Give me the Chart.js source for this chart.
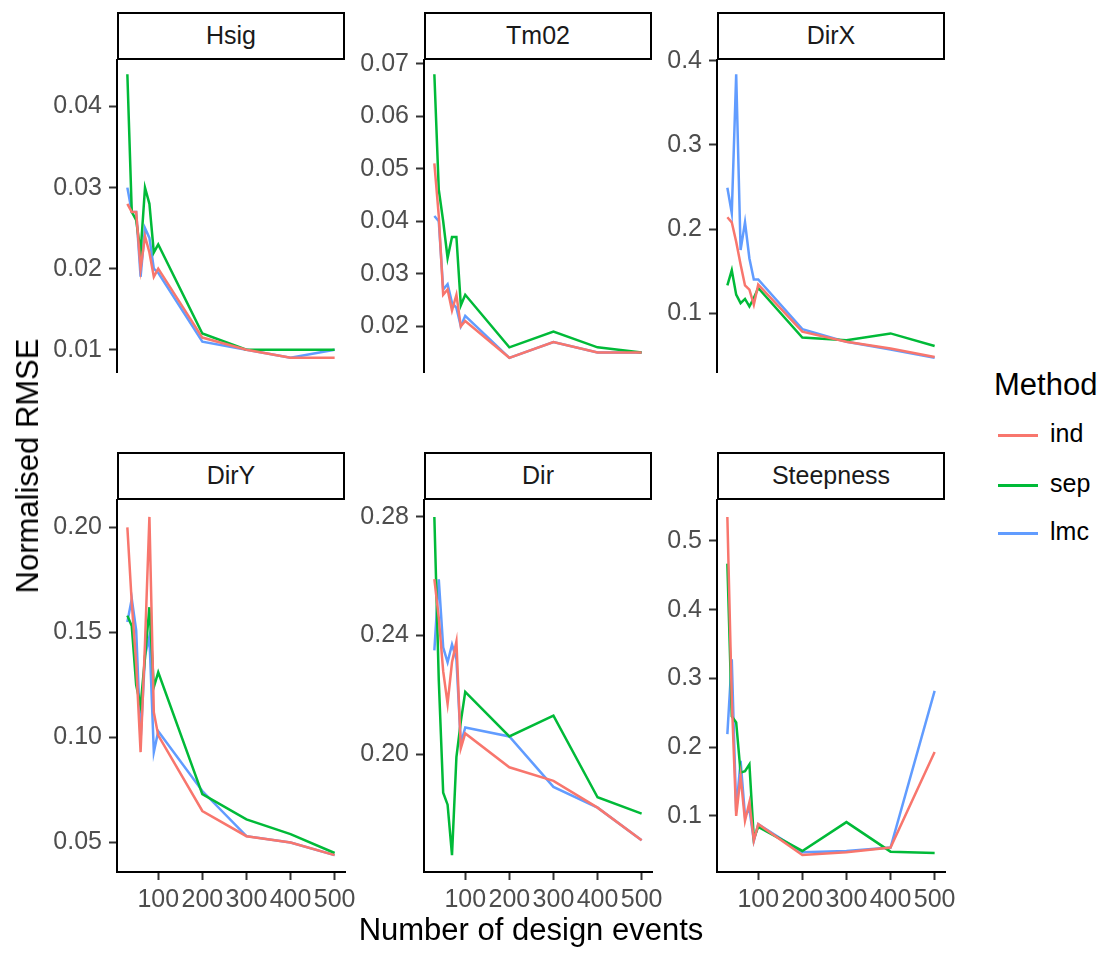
<!DOCTYPE html>
<html>
<head>
<meta charset="utf-8">
<script src="https://cdn.jsdelivr.net/npm/chart.js@4.4.1/dist/chart.umd.min.js"></script>
<style>
  body { margin: 0; background: #fff; font-family: "Liberation Sans", Arial, sans-serif; }
  #page { position: relative; width: 1103px; height: 953px; overflow: hidden; }
  .panel { position: absolute; }
  .strip { position: absolute; box-sizing: border-box; border: 2.5px solid #000; background: #fff;
           font-size: 25px; color: #1a1a1a; text-align: center; }
  .title { position: absolute; font-size: 31px; color: #000; white-space: nowrap; }
  .key { position: absolute; height: 2.5px; width: 40px; }
  .keylab { position: absolute; font-size: 25px; color: #000; }
</style>
</head>
<body>
<div id="page"></div>
<script>
// design event counts (x axis)
var xs = [30, 40, 50, 60, 70, 80, 90, 100, 200, 300, 400, 500];
var xTicks = [100, 200, 300, 400, 500];

var methods = ['ind', 'sep', 'lmc'];
var methodColors = ['#F8766D', '#00BA38', '#619CFF'];

var panelNames = ['Hsig', 'Tm02', 'DirX', 'DirY', 'Dir', 'Steepness'];

// Hsig
var hsigInd = [0.028, 0.027, 0.027, 0.020, 0.024, 0.022, 0.019, 0.020, 0.0115, 0.010, 0.009, 0.009];
var hsigSep = [0.044, 0.027, 0.026, 0.022, 0.030, 0.028, 0.022, 0.023, 0.012, 0.010, 0.010, 0.010];
var hsigLmc = [0.030, 0.027, 0.027, 0.019, 0.025, 0.0238, 0.020, 0.0195, 0.011, 0.010, 0.009, 0.010];
var hsigTicks = [0.01, 0.02, 0.03, 0.04];
var hsigTickLabels = ['0.01', '0.02', '0.03', '0.04'];

// Tm02
var tm02Ind = [0.051, 0.041, 0.026, 0.027, 0.023, 0.026, 0.020, 0.021, 0.014, 0.017, 0.015, 0.015];
var tm02Sep = [0.068, 0.046, 0.040, 0.033, 0.037, 0.037, 0.024, 0.026, 0.016, 0.019, 0.016, 0.015];
var tm02Lmc = [0.041, 0.040, 0.027, 0.028, 0.0245, 0.0235, 0.020, 0.022, 0.014, 0.017, 0.015, 0.015];
var tm02Ticks = [0.02, 0.03, 0.04, 0.05, 0.06, 0.07];
var tm02TickLabels = ['0.02', '0.03', '0.04', '0.05', '0.06', '0.07'];

// DirX
var dirxInd = [0.214, 0.208, 0.185, 0.158, 0.133, 0.128, 0.110, 0.134, 0.078, 0.066, 0.058, 0.048];
var dirxSep = [0.133, 0.151, 0.122, 0.112, 0.117, 0.108, 0.118, 0.130, 0.071, 0.068, 0.076, 0.061];
var dirxLmc = [0.249, 0.219, 0.384, 0.175, 0.208, 0.165, 0.140, 0.140, 0.081, 0.066, 0.057, 0.047];
var dirxTicks = [0.1, 0.2, 0.3, 0.4];
var dirxTickLabels = ['0.1', '0.2', '0.3', '0.4'];

// DirY
var diryInd = [0.200, 0.164, 0.135, 0.093, 0.145, 0.205, 0.112, 0.101, 0.065, 0.053, 0.050, 0.044];
var dirySep = [0.158, 0.153, 0.125, 0.115, 0.138, 0.162, 0.124, 0.131, 0.073, 0.061, 0.054, 0.045];
var diryLmc = [0.155, 0.166, 0.151, 0.099, 0.139, 0.148, 0.093, 0.103, 0.0745, 0.053, 0.050, 0.044];
var diryTicks = [0.05, 0.10, 0.15, 0.20];
var diryTickLabels = ['0.05', '0.10', '0.15', '0.20'];

// Dir
var dirInd = [0.259, 0.246, 0.228, 0.217, 0.231, 0.238, 0.202, 0.207, 0.1956, 0.191, 0.182, 0.171];
var dirSep = [0.280, 0.225, 0.187, 0.183, 0.166, 0.199, 0.211, 0.221, 0.206, 0.213, 0.1855, 0.180];
var dirLmc = [0.235, 0.259, 0.236, 0.231, 0.237, 0.232, 0.2035, 0.209, 0.206, 0.189, 0.182, 0.171];
var dirTicks = [0.20, 0.24, 0.28];
var dirTickLabels = ['0.20', '0.24', '0.28'];

// Steepness
var steepInd = [0.535, 0.270, 0.100, 0.158, 0.093, 0.120, 0.064, 0.088, 0.043, 0.047, 0.054, 0.193];
var steepSep = [0.467, 0.245, 0.236, 0.163, 0.165, 0.175, 0.067, 0.084, 0.049, 0.091, 0.048, 0.046];
var steepLmc = [0.219, 0.328, 0.107, 0.180, 0.100, 0.110, 0.064, 0.088, 0.047, 0.049, 0.054, 0.282];
var steepTicks = [0.1, 0.2, 0.3, 0.4, 0.5];
var steepTickLabels = ['0.1', '0.2', '0.3', '0.4', '0.5'];

var panelSeries = [
    [hsigInd, hsigSep, hsigLmc],
    [tm02Ind, tm02Sep, tm02Lmc],
    [dirxInd, dirxSep, dirxLmc],
    [diryInd, dirySep, diryLmc],
    [dirInd, dirSep, dirLmc],
    [steepInd, steepSep, steepLmc]
];
var panelTicks = [hsigTicks, tm02Ticks, dirxTicks, diryTicks, dirTicks, steepTicks];
var panelTickLabels = [hsigTickLabels, tm02TickLabels, dirxTickLabels, diryTickLabels, dirTickLabels, steepTickLabels];

// layout (pixels)
var colLeft = [117, 424, 717];
var rowTop = [60, 500];
var panelW = 228, panelH = 372, stripH = 48;
var yAxisW = 90, xAxisH = 60, rightPad = 30, topPad = 16;
var FONT = '"Liberation Sans", Arial, sans-serif';

var page = document.getElementById('page');

function addDiv(cls, css, text){
    var d = document.createElement('div');
    d.className = cls;
    d.style.cssText = css;
    if (text) d.textContent = text;
    page.appendChild(d);
    return d;
}

function expandRange(arrs){
    var lo = Infinity, hi = -Infinity;
    for (var a of arrs) for (var v of a) { lo = Math.min(lo, v); hi = Math.max(hi, v); }
    var pad = (hi - lo) * 0.05;
    return [lo - pad, hi + pad];
}

var xMin = xs[0] - (xs[xs.length-1] - xs[0]) * 0.05;
var xMax = xs[xs.length-1] + (xs[xs.length-1] - xs[0]) * 0.05;

function addPanel(p){
    var row = Math.floor(p / 3), col = p % 3;
    var bottomRow = row === 1;
    var pLeft = colLeft[col], pTop = rowTop[row];

    var cw = yAxisW + panelW + rightPad;
    var ch = topPad + panelH + (bottomRow ? xAxisH : 14);
    var holder = addDiv('panel', 'left:' + (pLeft - yAxisW) + 'px;top:' + (pTop - topPad) + 'px;width:' + cw + 'px;height:' + ch + 'px;');
    var canvas = document.createElement('canvas');
    canvas.width = cw; canvas.height = ch;
    canvas.style.width = cw + 'px'; canvas.style.height = ch + 'px';
    holder.appendChild(canvas);

    // strip on top of the canvas margin
    addDiv('strip', 'left:' + pLeft + 'px;top:' + (pTop - stripH) + 'px;width:' + panelW + 'px;height:' + stripH +
        'px;line-height:' + (stripH - 5) + 'px;', panelNames[p]);

    var series = panelSeries[p];
    var yr = expandRange(series);
    var datasets = [];
    for (var m = 0; m < 3; m++) {
        var vals = series[m];
        datasets.push({
            label: methods[m],
            data: xs.map(function(x, i){ return {x: x, y: vals[i]}; }),
            borderColor: methodColors[m],
            borderWidth: 2.5,
            pointRadius: 0,
            tension: 0,
            fill: false
        });
    }
    var yt = panelTicks[p], ytl = panelTickLabels[p];

    new Chart(canvas, {
        type: 'line',
        data: { datasets: datasets },
        options: {
            responsive: false,
            animation: false,
            devicePixelRatio: 1,
            layout: { padding: { left: 0, right: rightPad, top: topPad, bottom: bottomRow ? 0 : 14 } },
            plugins: { legend: { display: false }, tooltip: { enabled: false } },
            scales: {
                x: {
                    type: 'linear',
                    display: bottomRow,
                    min: xMin, max: xMax,
                    afterBuildTicks: function(scale){ scale.ticks = xTicks.map(function(v){ return {value: v}; }); },
                    afterFit: function(scale){ scale.height = xAxisH; scale.paddingLeft = 0; scale.paddingRight = 0; },
                    ticks: {
                        autoSkip: false, maxRotation: 0, minRotation: 0, padding: 5,
                        color: '#4d4d4d', font: { family: FONT, size: 25 },
                        callback: function(v){ return String(v); }
                    },
                    grid: { display: true, drawOnChartArea: false, drawTicks: true, tickLength: 8, tickColor: '#333333', tickWidth: 2 },
                    border: { display: true, color: '#000', width: 2 }
                },
                y: {
                    type: 'linear',
                    min: yr[0], max: yr[1],
                    afterBuildTicks: function(scale){ scale.ticks = yt.map(function(v){ return {value: v}; }); },
                    afterFit: function(scale){ scale.width = yAxisW; scale.paddingTop = 0; scale.paddingBottom = 0; },
                    ticks: {
                        padding: 7, color: '#4d4d4d', font: { family: FONT, size: 25 },
                        callback: function(v, i){ return ytl[i]; }
                    },
                    grid: { display: true, drawOnChartArea: false, drawTicks: true, tickLength: 8, tickColor: '#333333', tickWidth: 2 },
                    border: { display: true, color: '#000', width: 2 }
                }
            }
        }
    });
}

for (var p = 0; p < 6; p++) addPanel(p);

// axis titles, centred on the panel area
addDiv('title', 'left:0;width:' + (colLeft[0] + colLeft[2] + panelW) + 'px;top:912px;text-align:center;', 'Number of design events');
addDiv('title', 'left:28px;top:466px;transform:translate(-50%,-50%) rotate(-90deg);', 'Normalised RMSE');

// legend
addDiv('title', 'left:994px;top:367px;', 'Method');
var keyY = [435, 485, 533];
for (var k = 0; k < 3; k++) {
    addDiv('key', 'left:998px;top:' + (keyY[k] - 1) + 'px;background:' + methodColors[k] + ';');
    addDiv('keylab', 'left:1050px;top:' + (keyY[k] - 16) + 'px;', methods[k]);
}
</script>
</body>
</html>
